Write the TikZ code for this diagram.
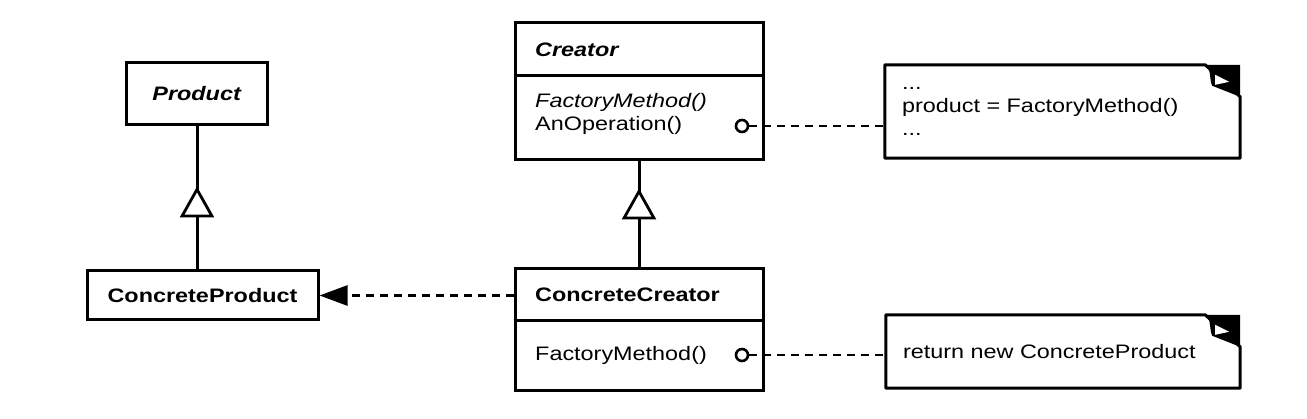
\documentclass[tikz,border=0pt]{standalone}
\usepackage{fontspec}
\setmainfont{Liberation Sans}[FakeStretch=1.2]
\usetikzlibrary{arrows.meta,decorations.markings,calc}
\tikzset{
  classbox/.style={draw, line width=3pt, rectangle, inner sep=0pt},
  lbl/.style={anchor=west, inner sep=0pt},
  notebox/.style={inner xsep=17pt, inner ysep=0pt, align=left},
  depline/.style={line width=2.6pt, dash pattern=on 8pt off 6pt},
  genline/.style={line width=3pt, postaction=decorate,
    decoration={markings, mark=at position #1 with {\arrow{Triangle[length=31pt,width=34pt,fill=white,line width=2.8pt]}}}},
  ball/.style={circle, draw, line width=2.6pt, minimum size=12pt, inner sep=0pt},
}
\newcommand\dogear[1]{%
  \draw[line width=3pt, line join=round] (#1.north west) -- ($(#1.north east)+(-35,0)$) -- ($(#1.north east)+(0,-32)$) -- (#1.south east) -- (#1.south west) -- cycle;
  \fill ($(#1.north east)+(-35,0)$) .. controls +(6,-2) and +(-3,6) .. ($(#1.north east)+(-28,-21)$) -- ($(#1.north east)+(0,-32)$) -- ($(#1.north east)+(0,0)$) -- cycle;
  \fill[white] ($(#1.north east)+(-25,-10)$) -- ($(#1.north east)+(-11,-17)$) -- ($(#1.north east)+(-25,-20)$) -- cycle;
}
\begin{document}
\begin{tikzpicture}[x=1pt,y=1pt,font=\fontsize{19.5}{23}\selectfont]
\useasboundingbox (0,0) rectangle (1307,418);

% classes
\node[classbox, minimum width=141pt, minimum height=62pt] (product) at (197,324) {\textbf{\textit{Product}}};
\node[classbox, minimum width=231pt, minimum height=49pt] (cp) at (202.5,122.5) {\textbf{ConcreteProduct}};
\node[classbox, minimum width=248pt, minimum height=137pt] (creator) at (639,326.5) {};
\node[classbox, minimum width=248pt, minimum height=121pt] (cc) at (639,88.5) {};
\draw[line width=3pt] ($(creator.north west)+(0,-54)$) -- ($(creator.north east)+(0,-54)$);
\draw[line width=3pt] ($(cc.north west)+(0,-53)$) -- ($(cc.north east)+(0,-53)$);

% labels
\node[lbl] (tcreator) at (535,368) {\textbf{\textit{Creator}}};
\node[lbl] (tfm1) at (535,316) {\textit{FactoryMethod()}};
\node[lbl] (top) at (535,293) {AnOperation()};
\node[lbl] (tcc) at (535,123) {\textbf{ConcreteCreator}};
\node[lbl] (tfm2) at (535,63) {FactoryMethod()};

% notes
\node[notebox, text width=321pt, minimum height=93pt] (note1) at (1062.5,306.5) {...\\product = FactoryMethod()\\...};
\node[notebox, text width=320pt, minimum height=73pt] (note2) at (1063,66.5) {return new ConcreteProduct};
\dogear{note1}
\dogear{note2}

% balls and note links
\node[ball] (b1) at (742,292) {};
\node[ball] (b2) at (742,63) {};
\draw[depline] (b1.east) -- (b1.east -| note1.west);
\draw[depline] (b2.east) -- (b2.east -| note2.west);

% generalizations
\draw[genline=83pt] (cp.north -| product.south) -- (product.south);
\draw[genline=79pt] (cc.north -| creator.south) -- (creator.south);

% dependency
\draw[depline, -{Triangle[length=28pt,width=20pt]}] (cc.west |- cp.east) -- (cp.east);
\end{tikzpicture}
\end{document}
